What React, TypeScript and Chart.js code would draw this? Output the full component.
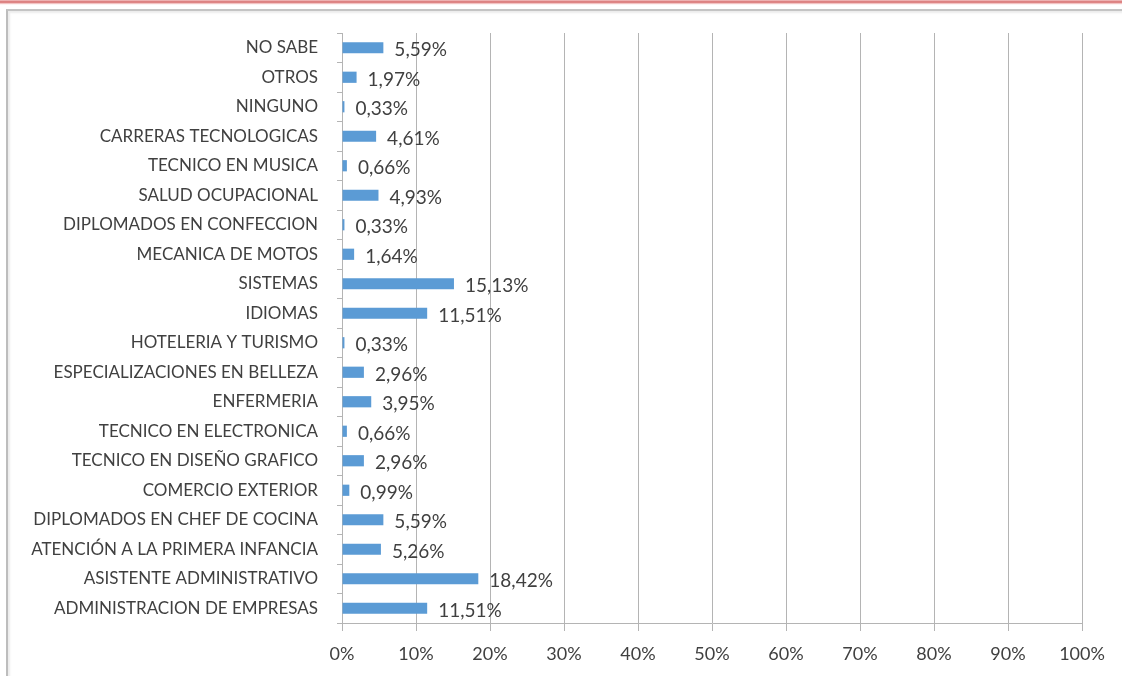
import React, { useEffect, useRef } from "react";
import { Chart, registerables } from "chart.js";

Chart.register(...registerables);

const categories: string[] = [
  "NO SABE",
  "OTROS",
  "NINGUNO",
  "CARRERAS TECNOLOGICAS",
  "TECNICO EN MUSICA",
  "SALUD OCUPACIONAL",
  "DIPLOMADOS EN CONFECCION",
  "MECANICA DE MOTOS",
  "SISTEMAS",
  "IDIOMAS",
  "HOTELERIA Y TURISMO",
  "ESPECIALIZACIONES EN BELLEZA",
  "ENFERMERIA",
  "TECNICO EN ELECTRONICA",
  "TECNICO EN DISEÑO GRAFICO",
  "COMERCIO EXTERIOR",
  "DIPLOMADOS EN CHEF DE COCINA",
  "ATENCIÓN A LA PRIMERA INFANCIA",
  "ASISTENTE ADMINISTRATIVO",
  "ADMINISTRACION DE EMPRESAS",
];

const percentages: number[] = [
  5.59, 1.97, 0.33, 4.61, 0.66, 4.93, 0.33, 1.64, 15.13, 11.51, 0.33, 2.96,
  3.95, 0.66, 2.96, 0.99, 5.59, 5.26, 18.42, 11.51,
];

const xTicks: number[] = [0, 10, 20, 30, 40, 50, 60, 70, 80, 90, 100];

const FONT = "Lato, 'Open Sans', sans-serif";

const dataLabelPlugin = {
  id: "dataLabels",
  afterDatasetsDraw(chart: any) {
    const ctx = chart.ctx;
    const meta = chart.getDatasetMeta(0);
    ctx.save();
    ctx.font = `19px ${FONT}`;
    ctx.fillStyle = "#404040";
    ctx.textAlign = "left";
    ctx.textBaseline = "middle";
    meta.data.forEach((bar: any, i: number) => {
      const v = percentages[i];
      const txt = v.toFixed(2).replace(".", ",") + "%";
      ctx.fillText(txt, bar.x + 11, bar.y + 2.5);
    });
    ctx.restore();
  },
};

export default function App() {
  const ref = useRef<HTMLCanvasElement | null>(null);

  useEffect(() => {
    if (!ref.current) return;
    const chart = new Chart(ref.current, {
      type: "bar",
      data: {
        labels: categories,
        datasets: [
          {
            data: percentages,
            backgroundColor: "#5B9BD5",
            borderWidth: 0,
            barPercentage: 0.38,
            categoryPercentage: 1,
          },
        ],
      },
      options: {
        indexAxis: "y",
        animation: false,
        responsive: false,
        maintainAspectRatio: false,
        layout: { padding: { top: 33, right: 40, bottom: 0, left: 0 } },
        plugins: {
          legend: { display: false },
          tooltip: { enabled: false },
        },
        scales: {
          x: {
            min: 0,
            max: 100,
            afterBuildTicks: (scale: any) => {
              scale.ticks = xTicks.map((v) => ({ value: v }));
            },
            afterFit: (scale: any) => {
              scale.height = 53;
            },
            ticks: {
              callback: (v: any) => v + "%",
              color: "#404040",
              font: { family: FONT, size: 18 },
              padding: 12,
              maxRotation: 0,
            },
            grid: {
              color: "#b4b4b4",
              lineWidth: 1,
              drawTicks: true,
              tickLength: 8,
            },
            border: { display: true, color: "#b4b4b4" },
          },
          y: {
            afterFit: (scale: any) => {
              scale.width = 342;
            },
            ticks: {
              color: "#404040",
              font: { family: FONT, size: 17 },
              padding: 19,
              autoSkip: false,
            },
            grid: {
              drawOnChartArea: false,
              drawTicks: true,
              tickLength: 5,
              color: "#b4b4b4",
              offset: true,
            },
            border: { display: true, color: "#b4b4b4" },
          },
        },
      },
      plugins: [dataLabelPlugin],
    } as any);
    return () => chart.destroy();
  }, []);

  return (
    <div
      style={{
        position: "fixed",
        left: 0,
        top: 0,
        width: 1122,
        height: 676,
        background: "#ffffff",
        overflow: "hidden",
      }}
    >
      <div
        style={{
          position: "absolute",
          left: 0,
          top: 0,
          width: 1122,
          height: 5,
          background:
            "linear-gradient(to bottom, #f4c6c6 0px, #e59a9a 1px, #d46a6a 2px, #e8a0a0 3px, #fbe6e6 4px, #ffffff 5px)",
        }}
      />
      <div
        style={{
          position: "absolute",
          left: 6,
          top: 9,
          width: 1130,
          height: 680,
          borderLeft: "2px solid #bdbdbd",
          borderTop: "2px solid #c4c4c4",
          boxShadow: "inset 2px 2px 2px #ededed",
        }}
      />
      <canvas
        ref={ref}
        width={1122}
        height={676}
        style={{ position: "absolute", left: 0, top: 0, width: 1122, height: 676 }}
      />
    </div>
  );
}
